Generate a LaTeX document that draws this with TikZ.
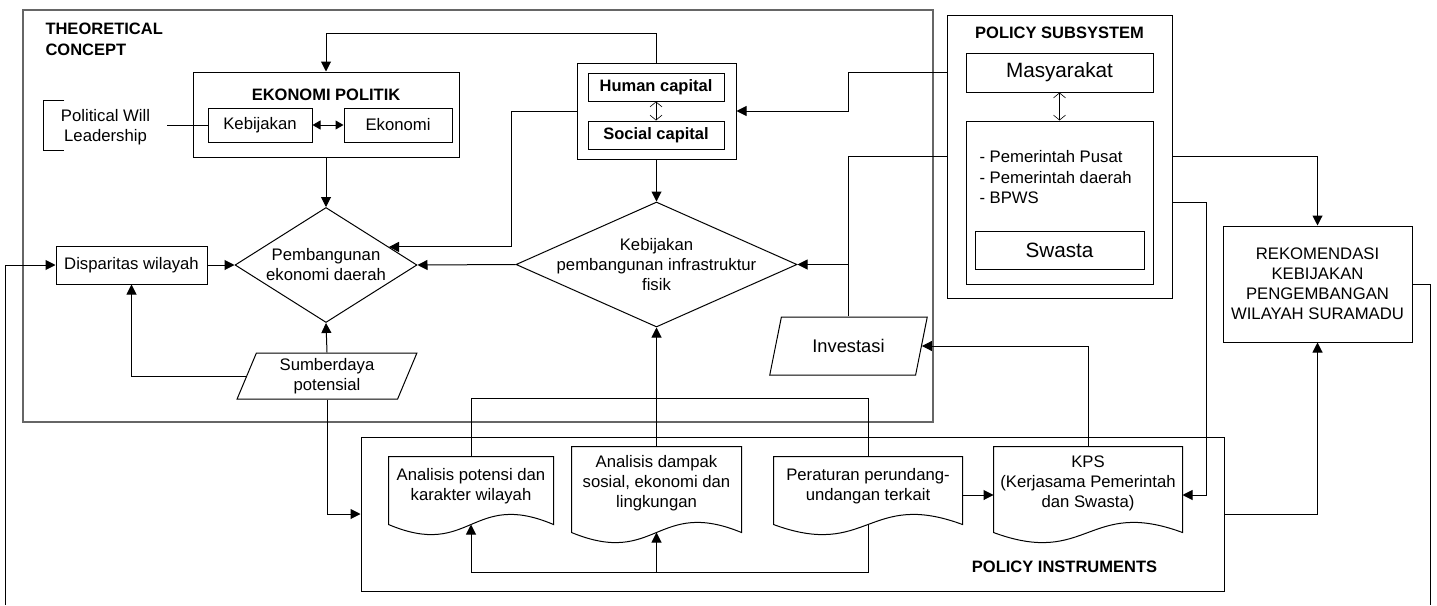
\documentclass[tikz,border=0pt]{standalone}
\usepackage{fontspec}
\setmainfont{Liberation Sans}
\usepackage{tikz}
\usetikzlibrary{arrows.meta,shapes,calc}
\tikzstyle{box}=[draw,rectangle,inner sep=0pt,align=center]
\tikzstyle{frame}=[draw,rectangle,inner sep=0pt]
\tikzstyle{dia}=[draw,diamond,inner sep=0pt]
\tikzstyle{para}=[draw,trapezium,trapezium stretches=true,inner sep=0pt,align=center]
\tikzstyle{doc}=[rectangle,inner sep=0pt,align=center]
\tikzstyle{hd}=[font=\bfseries\fontsize{16.5}{21}\selectfont,inner sep=0pt]
\tikzstyle{big}=[font=\fontsize{20.7}{24}\selectfont]
\tikzstyle{edge} = [draw,-]
\newcommand{\docoutline}[2]{%
  \draw (#1.north west) -- (#1.north east) -- ($(#1.south east)+(0,#2)$)
    .. controls ($(#1.south)+(0,#2-35)$) and ($(#1.south)+(0,#2+35)$) .. ($(#1.south west)+(0,#2)$) -- cycle;}

\begin{document}
\begin{tikzpicture}[x=1pt,y=-1pt,line width=1pt,font=\fontsize{16.7}{20}\selectfont]
      \tikzset{edge/.style = {draw,-{Triangle[length=10pt,width=10pt]}},
        biedge/.style = {draw,{Triangle[length=8pt,width=9pt]}-{Triangle[length=8pt,width=9pt]}},
        openedge/.style = {draw,line width=0.6pt,{Straight Barb[length=5pt,width=12pt]}-{Straight Barb[length=5pt,width=12pt]}}}
      \useasboundingbox (0,0) rectangle (1437,605);
      % frames
      \node[frame,draw=black!60,line width=1.6pt,minimum width=910,minimum height=412] (tc) at (478,216) {};
      \node[frame,minimum width=863,minimum height=154] (pi) at (792.5,514) {};
      \node[frame,minimum width=225,minimum height=283] (ps) at (1059.5,156.5) {};
      \node[hd,align=left,anchor=west] (tctitle) at (45,39) {THEORETICAL\\CONCEPT};
      \node[hd] (pstitle) at (1059.5,33) {POLICY SUBSYSTEM};
      \node[hd] (pititle) at (1064.5,567) {POLICY INSTRUMENTS};
      % theoretical concept
      \node[box,minimum width=266,minimum height=85] (ep) at (326,114.5) {};
      \node[hd] (eptitle) at (326,95) {EKONOMI POLITIK};
      \node[box,minimum width=104,minimum height=34] (keb) at (260,125) {Kebijakan};
      \node[box,minimum width=108,minimum height=34] (eko) at (398,125) {Ekonomi};
      \node[align=center,inner sep=0pt] (pw) at (105.5,127) {Political Will\\Leadership};
      \node[box,minimum width=159,minimum height=96] (cap) at (656.5,111) {};
      \node[box,hd,minimum width=136,minimum height=28] (hc) at (656,87) {Human capital};
      \node[box,hd,minimum width=136,minimum height=28] (sc) at (656,135) {Social capital};
      \node[box,minimum width=151,minimum height=38] (disp) at (131.5,265) {Disparitas wilayah};
      \node[dia,minimum width=182,minimum height=115] (pem) at (326,265) {};
      \node[align=center] (pemtxt) at (pem) {Pembangunan\\ekonomi daerah};
      \node[dia,minimum width=281,minimum height=125] (kbj) at (656.5,264.5) {};
      \node[align=center] (kbjtxt) at (kbj) {Kebijakan\\pembangunan infrastruktur\\fisik};
      \node[para,trapezium left angle=70,trapezium right angle=110,minimum width=180,minimum height=46] (sum) at (327,376) {Sumberdaya\\potensial};
      \node[para,trapezium left angle=65,trapezium right angle=115,minimum width=159,minimum height=58,font=\fontsize{18.3}{22}\selectfont] (inv) at (848.5,346) {Investasi};
      % policy subsystem
      \node[box,big,minimum width=187,minimum height=39] (mas) at (1059.5,72.5) {Masyarakat};
      \node[box,minimum width=187,minimum height=163] (gov) at (1059.5,202.5) {};
      \node[align=left,anchor=west,inner sep=0pt,font=\fontsize{16.7}{20.5}\selectfont] (govtxt) at (979,177.5) {- Pemerintah Pusat\\- Pemerintah daerah\\- BPWS};
      \node[box,big,minimum width=169,minimum height=38] (swa) at (1059.5,250) {Swasta};
      \node[box,minimum width=189,minimum height=116] (rek) at (1317.5,284) {REKOMENDASI\\KEBIJAKAN\\PENGEMBANGAN\\WILAYAH SURAMADU};
      % policy instruments
      \node[doc,minimum width=164,minimum height=59] (apot) at (471,486.5) {Analisis potensi dan\\karakter wilayah};
      \node[doc,minimum width=169,minimum height=72] (dam) at (656.5,483) {Analisis dampak\\sosial, ekonomi dan\\lingkungan};
      \node[doc,minimum width=188,minimum height=59] (per) at (868,486.5) {Peraturan perundang-\\undangan terkait};
      \node[doc,minimum width=188,minimum height=72] (kps) at (1088,483) {KPS\\(Kerjasama Pemerintah\\dan Swasta)};
      \docoutline{apot}{8}
      \docoutline{dam}{13}
      \docoutline{per}{8}
      \docoutline{kps}{13}
      \coordinate (lbot) at (5,605);
      \coordinate (rbot) at (1430,605);
      % connectors
      \draw[edge] (cap.north) -- ++(0,-29) -| (ep.north);
      \draw[edge] (ep.south) -- (pem.north);
      \draw[biedge] (keb.east) -- (eko.west);
      \draw (keb.west) -- ++(-41,0);
      \draw ($(pw.west)+(4,-27)$) -- ++(-21,0) -- ++(0,50) -- ++(21,0);
      \draw[openedge] (hc.south) -- (sc.north);
      \draw[edge] (cap.west) -- ++(-65,0) |- (pem.16);
      \draw[edge] (cap.south) -- (kbj.north);
      \draw[edge] (kbj.west) -- (pem.east);
      \draw[edge] (disp.east) -- (pem.west);
      \draw[edge] (lbot) |- (disp.west);
      \draw[edge] (sum.north) -- (pem.south);
      \draw[edge] (sum.west) -| (disp.south);
      \draw[edge] (sum.south) |- (pi.west);
      \draw[edge] (mas -| ps.west) -- (mas -| inv) |- (cap.east);
      \draw (inv.north) |- (ps.west);
      \draw[edge] (kbj.east -| inv.north) -- (kbj.east);
      \draw[openedge] (mas.south) -- (gov.north);
      \draw[edge] (ps.east) -| (rek.north);
      \draw[edge] (gov -| ps.east) -- ++(34,0) |- ($(kps.east)+(0,12)$);
      \draw (rek.east) -| (rbot);
      \draw[edge] (pi.east) -| (rek.south);
      \draw[edge] (kps.north) |- (inv.east);
      \draw[edge] ($(per.east)+(0,8.5)$) -- ($(kps.west)+(0,12)$);
      \draw (apot.north) -- ++(0,-58) -| (per.north);
      \draw[edge] (dam.north) -- (kbj.south);
      \draw[edge] ($(per.south)+(0,8)$) -- ++(0,48) coordinate (lowr) -| ($(apot.south)+(0,8)$);
      \draw[edge] (lowr -| dam.south) -- ($(dam.south)+(0,13)$);
      \end{tikzpicture}
\end{document}
